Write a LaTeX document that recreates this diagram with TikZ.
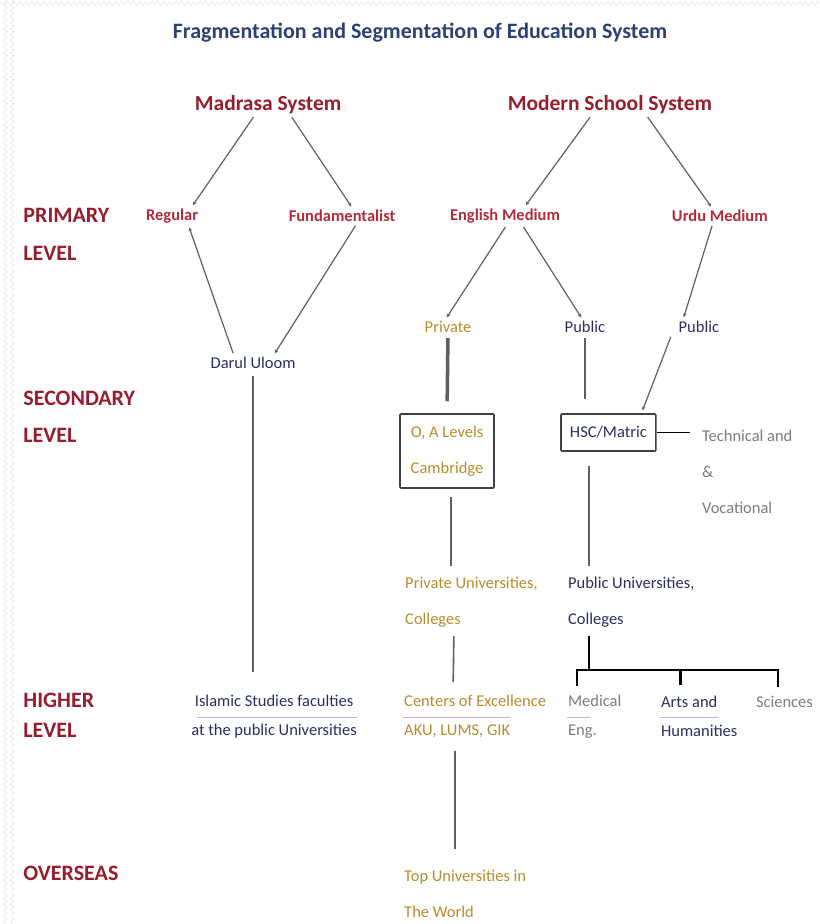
\documentclass[tikz,border=0pt]{standalone}
\usepackage{fontspec}
\setmainfont{Carlito}
\definecolor{titleblue}{RGB}{45, 65, 115}
\definecolor{maroon1}{RGB}{150, 30, 45}
\definecolor{red1}{RGB}{175, 45, 60}
\definecolor{gold1}{RGB}{185, 140, 45}
\definecolor{navy1}{RGB}{45, 45, 100}
\definecolor{grey1}{RGB}{125, 125, 125}
\definecolor{link1}{RGB}{95, 95, 95}
\usetikzlibrary{arrows.meta, calc, decorations.pathmorphing}

\begin{document}
\begin{tikzpicture}[x=1pt, y=-1pt,
  every node/.style={inner sep=1pt},
  system/.style={font=\bfseries\fontsize{21.5}{24}\selectfont, text=maroon1},
  level/.style={anchor=west, align=left, font=\bfseries\fontsize{22}{38}\selectfont, text=maroon1},
  branch/.style={font=\bfseries\fontsize{16.5}{18}\selectfont, text=red1},
  small/.style={font=\fontsize{16.5}{36}\selectfont},
  link/.style={draw=link1, line width=1.2pt, -{Stealth[length=4pt, width=3.5pt]}, shorten <=3pt, shorten >=3pt},
  bar/.style={draw=link1, line width=1.6pt},
  tree/.style={draw=black, line width=1.5pt},
  box/.style={draw=black!75, line width=1.6pt, rounded corners=1pt},
  bgzig/.style={draw=black!10, line width=0.5pt, decorate, decoration={zigzag, amplitude=2pt, segment length=6pt}},
  uline/.style={draw=blue!30, line width=0.6pt}]

  % page and slide texture
  \fill[white] (0,0) rectangle (819,924);
  \foreach \zx in {5, 12} {
    \draw[bgzig] (\zx,0) -- (\zx,924);
  }
  \draw[bgzig] (0,3) -- (819,3);

  \node[font=\bfseries\fontsize{22}{26}\selectfont, text=titleblue] (title) at (420,32) {Fragmentation and Segmentation of Education System};

  % the two systems
  \node[system] (mad) at (268,104) {Madrasa System};
  \node[system] (mod) at (610,104) {Modern School System};

  % levels
  \node[level] (lvpri) at (22,234) {PRIMARY\\LEVEL};
  \node[level] (lvsec) at (22,416.5) {SECONDARY\\[-1pt]LEVEL};
  \node[level] (lvhig) at (22,715) {HIGHER\\[-8pt]LEVEL};
  \node[level] (lvove) at (22,874) {OVERSEAS};

  % primary
  \node[branch] (reg) at (172,216) {Regular};
  \node[branch] (fun) at (342,216) {Fundamentalist};
  \node[branch] (eng) at (505,216) {English Medium};
  \node[branch] (urd) at (720,216) {Urdu Medium};

  \node[small, text=navy1] (dar) at (253,363) {Darul Uloom};
  \node[small, text=gold1] (priv) at (448,327) {Private};
  \node[small, text=navy1] (pub1) at (585,327) {Public};
  \node[small, text=navy1] (pub2) at (699,327) {Public};

  % secondary
  \node[box, small, text=gold1, align=center, minimum width=94, minimum height=74] (box1) at (447,451) {O, A Levels\\Cambridge};
  \node[box, small, text=navy1, minimum width=95, minimum height=37] (box2) at (608.5,432.5) {HSC/Matric};
  \node[small, text=grey1, anchor=west, align=left] (tech) at (701,472) {Technical and\\\&\\Vocational};

  \node[small, text=gold1, anchor=west, align=left] (privuni) at (404,602) {Private Universities,\\Colleges};
  \node[small, text=navy1, anchor=west, align=left] (pubuni) at (567,602) {Public Universities,\\Colleges};

  % higher
  \node[small, text=navy1, align=center] (isl) at (274,716.5) {Islamic Studies faculties\\[-7pt]at the public Universities};
  \node[small, text=gold1, anchor=west, align=left] (cen) at (403,716.5) {Centers of Excellence\\[-7pt]AKU, LUMS, GIK};
  \node[small, text=grey1, anchor=west, align=left] (med) at (567,716.5) {Medical\\[-7pt]Eng.};
  \node[small, text=navy1, anchor=west, align=left] (arts) at (660,716.5) {Arts and\\[-7pt]Humanities};
  \node[small, text=grey1, anchor=west] (sci) at (755,702) {Sciences};

  % overseas
  \node[small, text=gold1, anchor=west, align=left] (top) at (403,894) {Top Universities in\\The World};

  % links
  \draw[link] ([xshift=-13]mad.south) -- ([xshift=19]reg.north);
  \draw[link] ([xshift=22]mad.south) -- ([xshift=11]fun.north);
  \draw[link, {Stealth[length=4pt, width=3.5pt]}-] ([xshift=16]reg.south) -- ([xshift=-19]dar.north);
  \draw[link] ([xshift=15]fun.south) -- ([xshift=20]dar.north);
  \draw[link] ([xshift=-18]mod.south) -- ([xshift=19]eng.north);
  \draw[link] ([xshift=36]mod.south) -- ([xshift=-7]urd.north);
  \draw[link] ([xshift=2]eng.south) -- ([xshift=-3]priv.north);
  \draw[link] ([xshift=17]eng.south) -- ([xshift=-2]pub1.north);
  \draw[link] ([xshift=-7]urd.south) -- ([xshift=-16]pub2.north);
  \draw[link] ([xshift=-27]pub2.south) -- ([xshift=33]box2.north);

  \draw[bar, line width=3.5pt, shorten <=4pt, shorten >=12pt] (priv.south) -- (box1.north);
  \draw[bar, shorten <=4pt, shorten >=14pt] (pub1.south) -- (pub1.south |- box2.north);
  \draw[bar, shorten <=8pt, shorten >=10pt] ([xshift=4]box1.south) -- ([xshift=4]box1.south |- privuni.north);
  \draw[bar, shorten <=14pt, shorten >=10pt] ([xshift=-19.5]box2.south) -- ([xshift=-19.5]box2.south |- pubuni.north);
  \draw[bar, shorten <=6pt, shorten >=22pt] (dar.south) -- (dar.south |- isl.north);
  \draw[bar, shorten <=8pt, shorten >=12pt] ([xshift=50]privuni.south west) -- ([xshift=50]cen.north west);
  \draw[bar, shorten <=12pt, shorten >=20pt] ([xshift=52]cen.south west) -- ([xshift=52]top.north west);

  % branches of the public universities
  \coordinate (fork) at (589,670);
  \draw[tree, shorten <=8pt] ([xshift=22]pubuni.south west) -- (fork);
  \draw[tree, shorten <=8pt, shorten >=8pt] ([xshift=10]med.north west) |- (fork) -| ([xshift=23]sci.north west);
  \draw[tree, line width=3pt, shorten >=10pt] ([xshift=21]arts.north west |- fork) -- ([xshift=21]arts.north west);
  \draw[tree] (box2.east) -- ([xshift=-11]box2.east -| tech.west);

  % faint underlines
  \draw[uline] ([xshift=7,yshift=-1]isl.west) -- ([xshift=-1,yshift=-1]isl.east);
  \draw[uline] ([yshift=-1]cen.west) -- ([xshift=107,yshift=-1]cen.west);
  \draw[uline] ([yshift=-1]med.west) -- ([xshift=23,yshift=-1]med.west);
  \draw[uline] ([yshift=-1]arts.west) -- ([xshift=58,yshift=-1]arts.west);
\end{tikzpicture}
\end{document}
